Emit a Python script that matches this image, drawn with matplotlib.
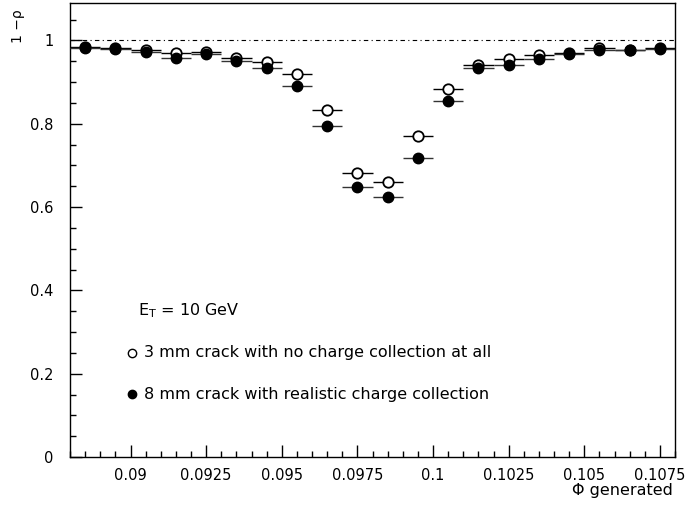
import matplotlib
matplotlib.use('Agg')
import matplotlib.pyplot as plt
from matplotlib.ticker import MultipleLocator, FuncFormatter
import numpy as np

# bin centres of phi generated (bin width 0.001)
phi = np.arange(20) * 0.001 + 0.0885
half_width = 0.0005

# 3 mm crack, no charge collection at all (open circles)
open_vals = [0.985, 0.981, 0.977, 0.969, 0.973, 0.957, 0.949, 0.920, 0.833, 0.681,
             0.660, 0.771, 0.884, 0.941, 0.956, 0.965, 0.970, 0.983, 0.978, 0.982]
# 8 mm crack, realistic charge collection (filled circles)
filled_vals = [0.981, 0.979, 0.972, 0.959, 0.967, 0.950, 0.935, 0.891, 0.795, 0.649,
               0.625, 0.717, 0.855, 0.933, 0.940, 0.956, 0.967, 0.976, 0.976, 0.979]

plt.rcParams['font.family'] = ['DejaVu Sans']

fig = plt.figure(figsize=(6.88, 5.08), dpi=100)
ax = fig.add_axes([70 / 688, 51 / 508, 605 / 688, 454 / 508])

# reference line at 1
ax.axhline(1.0, color='black', linestyle=(0, (4, 3, 1, 3)), linewidth=0.8)

ax.errorbar(phi, open_vals, xerr=half_width, fmt='o', ms=7.5, mfc='white',
            mec='black', mew=1.3, ecolor='black', elinewidth=1.0, capsize=0, zorder=3)
ax.errorbar(phi, filled_vals, xerr=half_width, fmt='o', ms=7.5, mfc='black',
            mec='black', ecolor='#333333', elinewidth=1.0, capsize=0, zorder=4)

ax.set_xlim(0.088, 0.108)
ax.set_ylim(0, 1.09)

ax.xaxis.set_major_locator(MultipleLocator(0.0025))
ax.xaxis.set_minor_locator(MultipleLocator(0.0005))
ax.yaxis.set_major_locator(MultipleLocator(0.2))
ax.yaxis.set_minor_locator(MultipleLocator(0.05))
ax.xaxis.set_major_formatter(FuncFormatter(lambda v, p: f'{v:g}'))
ax.yaxis.set_major_formatter(FuncFormatter(lambda v, p: f'{v:g}'))

ax.tick_params(which='both', direction='in', top=False, right=False, labelsize=10.5)
ax.tick_params(which='major', length=8.5, width=1.0, pad=8)
ax.tick_params(which='minor', length=4.3, width=1.0)
ax.tick_params(axis='y', pad=12)
for s in ax.spines.values():
    s.set_linewidth(1.0)

fig.text(673 / 688, 1 - 490 / 508, '\u03a6 generated', ha='right', va='center', fontsize=11.5)
fig.text(18 / 688, 1 - 26 / 508, '1 \u2212\u03c1', rotation=90, ha='center', va='center', fontsize=10)

# annotations
ax.text(0.113, 0.322, r'E$_\mathregular{T}$ = 10 GeV', transform=ax.transAxes,
        fontsize=11.5, va='center')
ax.plot([0.102], [0.230], 'o', transform=ax.transAxes, ms=6, mfc='white',
        mec='black', mew=1.0, clip_on=False)
ax.text(0.123, 0.230, '3 mm crack with no charge collection at all', transform=ax.transAxes,
        fontsize=11.5, va='center')
ax.plot([0.102], [0.138], 'o', transform=ax.transAxes, ms=6, mfc='black',
        mec='black', clip_on=False)
ax.text(0.123, 0.138, '8 mm crack with realistic charge collection', transform=ax.transAxes,
        fontsize=11.5, va='center')

plt.savefig('out.png', dpi=100)
plt.close()
